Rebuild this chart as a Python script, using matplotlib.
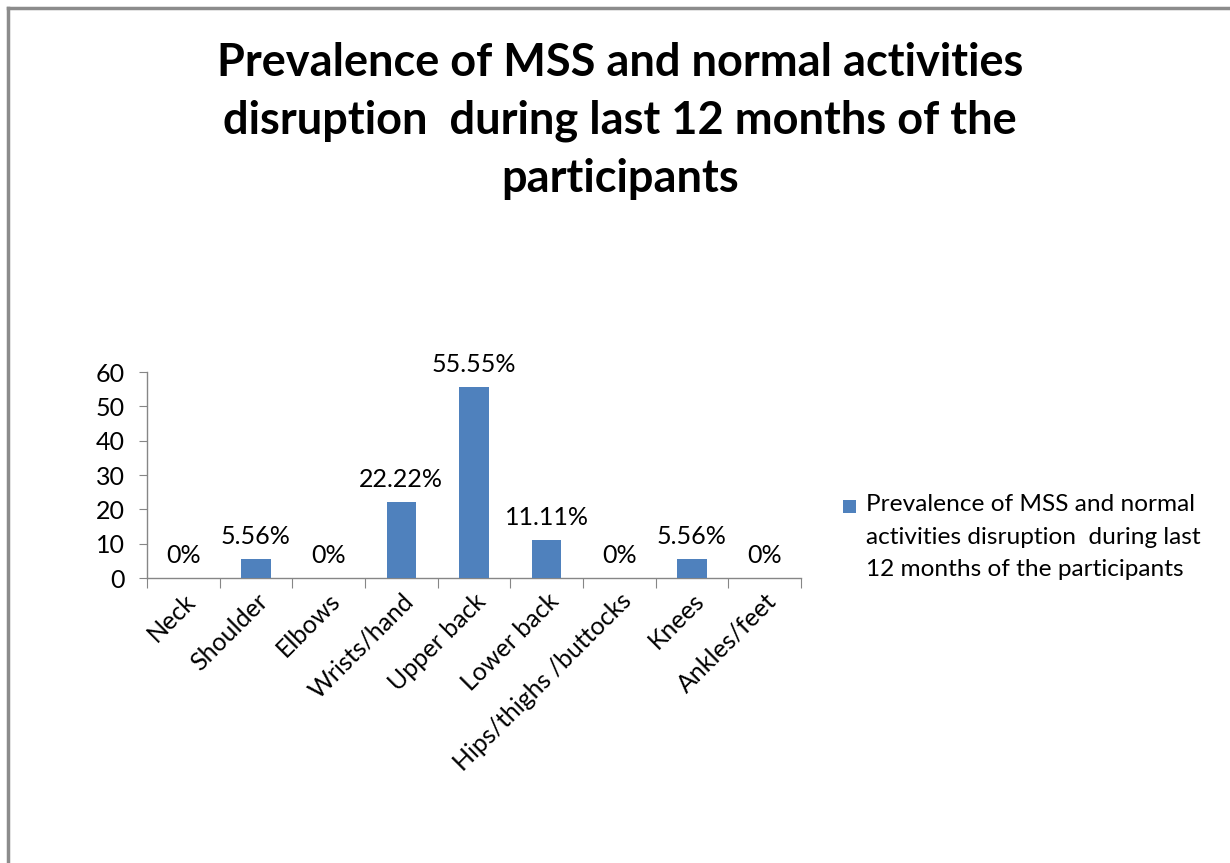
import matplotlib
matplotlib.use("Agg")
import matplotlib.pyplot as plt
from matplotlib.lines import Line2D
from matplotlib.patches import Rectangle

categories = ["Neck", "Shoulder", "Elbows", "Wrists/hand", "Upper back",
              "Lower back", "Hips/thighs /buttocks", "Knees", "Ankles/feet"]
values = [0, 5.56, 0, 22.22, 55.55, 11.11, 0, 5.56, 0]
labels = ["0%", "5.56%", "0%", "22.22%", "55.55%", "11.11%", "0%", "5.56%", "0%"]
yticks = [0, 10, 20, 30, 40, 50, 60]
series_name = "Prevalence of MSS and normal\nactivities disruption  during last\n12 months of the participants"
title = "Prevalence of MSS and normal activities\ndisruption  during last 12 months of the\nparticipants"

plt.rcParams['font.family'] = ['Lato', 'DejaVu Sans']
W, H = 1230, 863
fig = plt.figure(figsize=(W / 100, H / 100), dpi=100)
fig.patch.set_facecolor("white")

bar_color = "#4F81BD"
axis_color = "#868686"
fs = 18

ax = fig.add_axes([147 / W, 1 - 578 / H, (801 - 147) / W, (578 - 372) / H])
x = list(range(len(categories)))
ax.bar(x, values, width=0.4, color=bar_color, zorder=3)
ax.set_xlim(-0.5, len(categories) - 0.5)
ax.set_ylim(0, 60)
ax.set_yticks(yticks)
ax.set_yticklabels([str(t) for t in yticks], fontsize=fs, color="#000000")

ax.set_xticks([i - 0.5 for i in range(len(categories) + 1)], minor=False)
ax.set_xticklabels([])
ax.set_xticks(x, minor=True)
ax.set_xticklabels(categories, minor=True, rotation=45, ha="right",
                   rotation_mode="anchor", fontsize=fs)
ax.tick_params(axis="x", which="minor", length=0, pad=8)
ax.tick_params(axis="x", which="major", length=7, color=axis_color, direction="out")
ax.tick_params(axis="y", length=6, color=axis_color, direction="out", pad=10)

for s in ["top", "right"]:
    ax.spines[s].set_visible(False)
for s in ["left", "bottom"]:
    ax.spines[s].set_color(axis_color)
    ax.spines[s].set_linewidth(1.0)

for xi, v, lab in zip(x, values, labels):
    ax.annotate(lab, (xi, v), xytext=(0, 8), textcoords="offset points",
                ha="center", va="bottom", fontsize=fs, color="#000000")

fig.text(620 / W, 1 - 121 / H, title, ha="center", va="center",
         fontsize=32.5, fontweight="bold", linespacing=1.47, color="#000000")

# legend (single series)
fig.add_artist(Rectangle((843 / W, 1 - 513 / H), 13 / W, 13 / H,
                         transform=fig.transFigure, facecolor=bar_color,
                         edgecolor="none"))
fig.text(866 / W, 1 - 494 / H, series_name, ha="left", va="top",
         fontsize=17.6, linespacing=1.68, color="#000000")

# outer chart border (top and left visible)
fig.add_artist(Line2D([8 / W, 1.0], [1 - 8 / H, 1 - 8 / H], color="#8C8C8C", linewidth=2.5))
fig.add_artist(Line2D([8 / W, 8 / W], [1 - 8 / H, 0.0], color="#8C8C8C", linewidth=2.5))

fig.savefig("out.png", dpi=100, facecolor="white")
